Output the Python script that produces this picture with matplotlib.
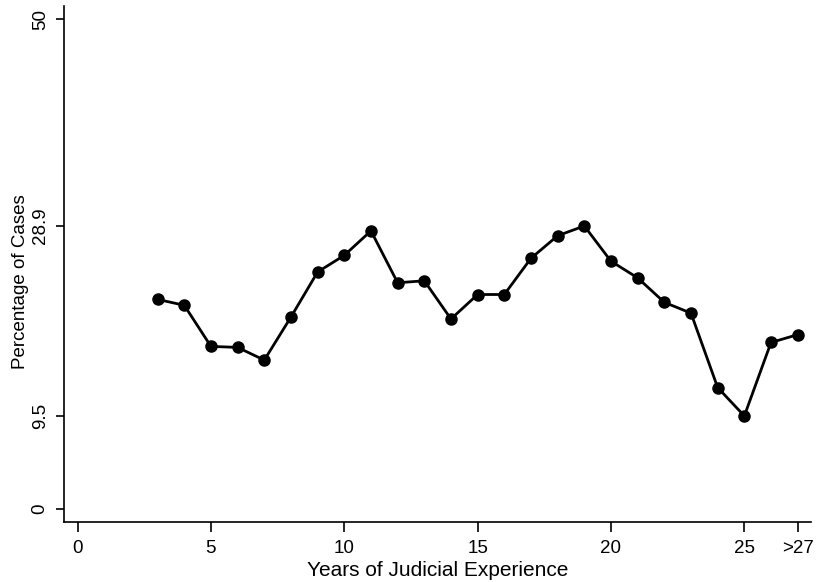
import matplotlib
matplotlib.use("Agg")
import matplotlib.pyplot as plt

years = [3, 4, 5, 6, 7, 8, 9, 10, 11, 12, 13, 14, 15, 16, 17, 18, 19, 20, 21, 22, 23, 24, 25, 26, 27]
pct = [21.4, 20.8, 16.6, 16.5, 15.2, 19.6, 24.2, 25.9, 28.4, 23.1, 23.3, 19.4, 21.9, 21.9,
       25.6, 27.9, 28.9, 25.3, 23.6, 21.1, 20.0, 12.4, 9.5, 17.0, 17.8]
xticks = [0, 5, 10, 15, 20, 25, 27]
xticklabels = ["0", "5", "10", "15", "20", "25", ">27"]
yticks = [0, 9.5, 28.9, 50]
yticklabels = ["0", "9.5", "28.9", "50"]

plt.rcParams['font.family'] = ['Liberation Sans', 'DejaVu Sans']

fig = plt.figure(figsize=(8.2, 5.82), dpi=100)
ax = fig.add_axes([64/820, 1-522/582, (811-64)/820, (522-6)/582])

ax.plot(years, pct, color='black', lw=2.0, marker='o', markersize=8, markerfacecolor='black',
        markeredgecolor='black')

ax.set_xlim(-0.51, 27.5)
ax.set_ylim(-1.33, 51.36)
ax.set_xticks(xticks)
ax.set_xticklabels(xticklabels, fontsize=13.5)
ax.set_yticks(yticks)
ax.set_yticklabels(yticklabels, fontsize=13.5, rotation=90, va='center')
ax.spines['top'].set_visible(False)
ax.spines['right'].set_visible(False)
for s in ['left', 'bottom']:
    ax.spines[s].set_linewidth(1.2)
ax.tick_params(axis='x', length=7, width=1.2, pad=6)
ax.tick_params(axis='y', length=6, width=1.2, pad=5)
ax.set_xlabel("Years of Judicial Experience", fontsize=15, va='center')
ax.set_ylabel("Percentage of Cases", fontsize=13.5, va='center')
ax.xaxis.set_label_coords(0.5, -(571 - 522) / 516)
ax.yaxis.set_label_coords(-(64 - 20.5) / 747, 0.465)

fig.savefig("out.png", dpi=100)
